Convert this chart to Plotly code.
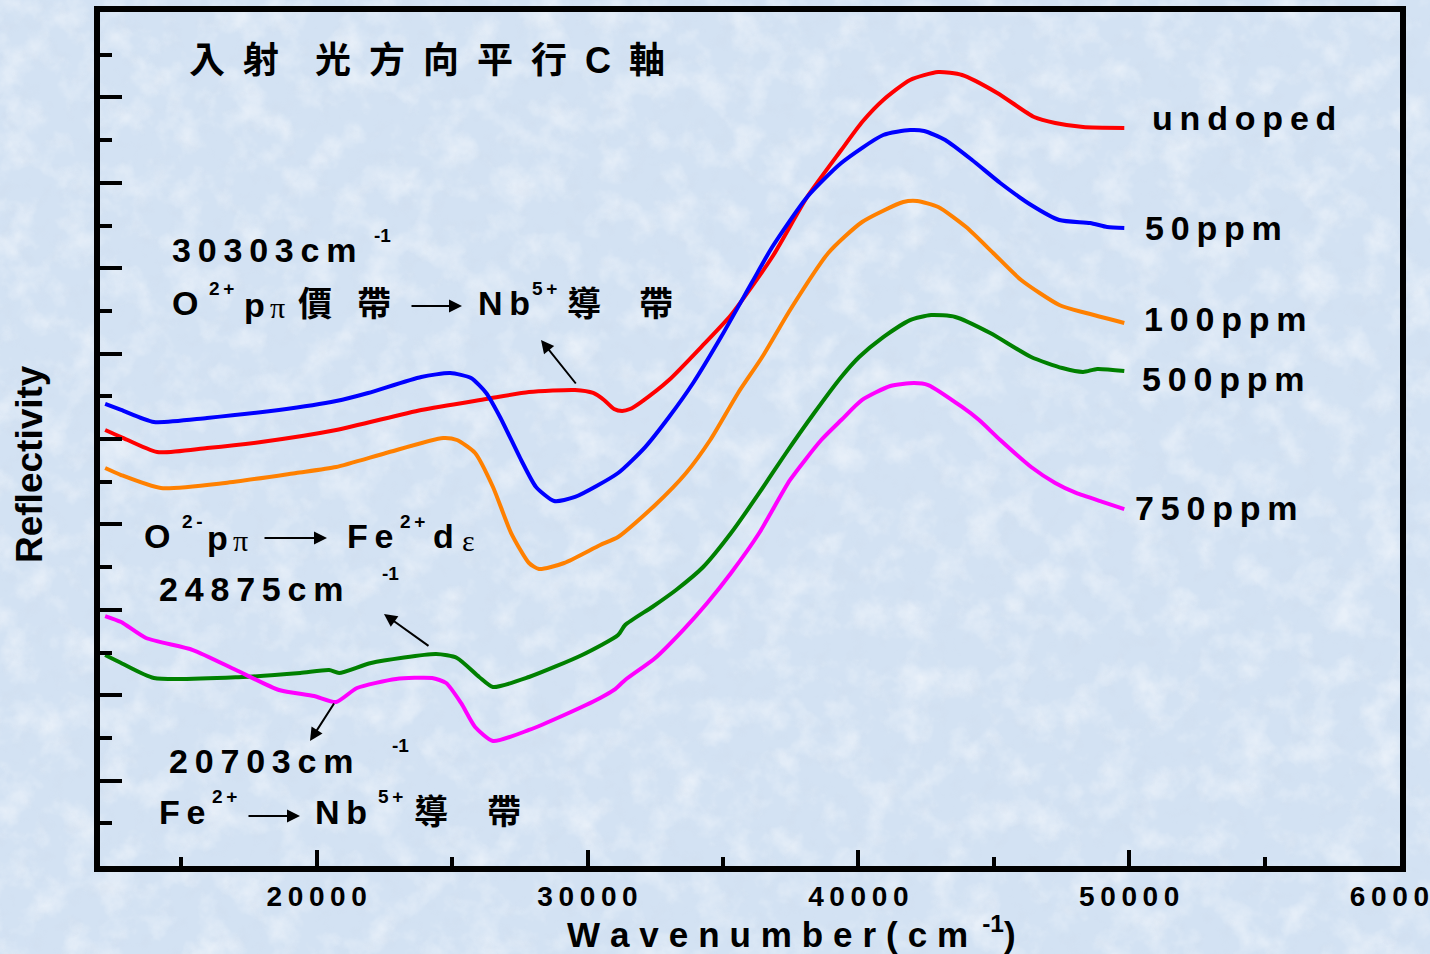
import base64
import plotly.graph_objects as go

# ---- data: reflectivity spectra, E parallel to c axis ----
wn_undoped = [12190, 12780, 14110, 15950, 17950, 20720, 23860, 26260, 27840, 29540, 30210, 30610,
              30980, 31280, 31570, 31980, 33010, 34270, 35300, 36820, 38110, 39370, 40140, 40920,
              41910, 42950, 43830, 45130, 46490, 47270, 48300, 49820]
r_undoped = [51.05, 50.23, 48.48, 48.95, 49.65, 51.05, 53.40, 54.68, 55.50, 55.74, 55.39, 54.57,
             53.51, 53.28, 53.51, 54.33, 56.91, 61.01, 64.52, 71.31, 78.34, 83.84, 87.12, 89.70,
             92.04, 92.97, 92.62, 90.52, 87.70, 87.00, 86.53, 86.42]

wn_50 = [12190, 12780, 13990, 15950, 18610, 20720, 21900, 23860, 24930, 25700, 26260, 26770,
         27550, 28100, 28770, 29540, 31130, 32130, 33010, 33900, 34930, 36080, 36820, 38110,
         39370, 40920, 41910, 42430, 43210, 44200, 45240, 46380, 47420, 48560, 49190, 49820]
r_50 = [54.10, 53.40, 51.99, 52.46, 53.40, 54.45, 55.39, 57.26, 57.73, 57.14, 55.39, 52.58,
        47.54, 44.38, 42.74, 43.21, 46.02, 49.06, 52.58, 56.56, 61.94, 68.38, 72.48, 78.34,
        82.32, 85.60, 86.18, 86.07, 85.01, 82.67, 79.98, 77.40, 75.64, 75.29, 74.82, 74.71]

wn_100 = [12190, 12780, 14250, 16620, 19240, 20720, 22560, 24670, 25180, 25850, 26510, 27180,
          27840, 28210, 29140, 30470, 31130, 32500, 33640, 34530, 35560, 36450, 37480, 38890,
          40140, 41660, 42170, 42950, 43980, 44980, 46010, 47420, 48410, 49820]
r_100 = [46.60, 45.78, 44.26, 44.85, 46.02, 46.72, 48.36, 50.12, 49.88, 48.36, 44.38, 38.99,
         35.48, 34.78, 35.48, 37.59, 38.52, 42.27, 46.02, 49.88, 55.39, 59.60, 65.11, 71.78,
         75.41, 77.75, 77.87, 77.17, 74.82, 71.78, 68.62, 65.69, 64.75, 63.58]

wn_500 = [12190, 12780, 13990, 17280, 19390, 20460, 20830, 22010, 24410, 25180, 26000, 26510,
          27840, 29800, 31130, 31390, 32390, 33270, 34270, 35300, 36340, 37330, 38370, 39370,
          40030, 40920, 41910, 42690, 43580, 44870, 46380, 47530, 48300, 48820, 49820]
r_500 = [24.71, 23.77, 22.01, 22.13, 22.60, 22.95, 22.60, 23.77, 24.82, 24.36, 22.13, 20.96,
         22.13, 24.71, 27.05, 28.22, 30.33, 32.32, 35.01, 38.99, 43.68, 48.36, 53.04, 57.26,
         59.60, 61.94, 63.93, 64.52, 64.29, 62.41, 59.60, 58.31, 57.85, 58.20, 57.96]

wn_750 = [12190, 12780, 13700, 15430, 17020, 18610, 19900, 20720, 21490, 22930, 24260, 24780,
          25330, 25850, 26510, 27840, 29140, 30470, 30980, 31390, 32500, 33530, 34420, 35300,
          36340, 37480, 38630, 39370, 40140, 41180, 42060, 42580, 43830, 44460, 45240, 46380,
          47270, 48040, 49040, 49820]
r_750 = [29.27, 28.57, 26.70, 25.29, 22.95, 20.61, 19.91, 19.20, 20.84, 21.90, 22.01, 21.43,
         19.09, 16.28, 14.64, 15.93, 17.68, 19.67, 20.61, 21.78, 24.36, 27.63, 30.80, 34.31,
         38.99, 45.20, 49.88, 52.22, 54.57, 56.21, 56.56, 56.32, 53.75, 52.22, 49.88, 46.72,
         44.85, 43.68, 42.62, 41.80]

series_names = ["undoped", "50ppm", "100ppm", "500ppm", "750ppm"]
series_x = [wn_undoped, wn_50, wn_100, wn_500, wn_750]
series_y = [r_undoped, r_50, r_100, r_500, r_750]
series_colors = ["#ff0000", "#0000ff", "#ff8000", "#008000", "#ff00ff"]

x_ticks = [20000, 30000, 40000, 50000, 60000]

BG = "rgb(211,226,243)"
SANS = "Liberation Sans, Arial, Noto Sans CJK TC, sans-serif"
SERIF = "Liberation Serif, DejaVu Serif, serif"
TSP = "\u2009"
W, H = 1430, 954


def sp(s, gap=TSP):
    """Spread letters with thin spaces (tracked lettering)."""
    return gap.join(s)


# mottled light-blue paper texture
texture_svg = f"""<svg xmlns='http://www.w3.org/2000/svg' width='{W}' height='{H}'>
<filter id='a'><feTurbulence type='fractalNoise' baseFrequency='0.03' numOctaves='4' seed='7'/>
<feColorMatrix values='0 0 0 0 1  0 0 0 0 1  0 0 0 0 1  2.2 0 0 0 -1.0'/></filter>
<filter id='b'><feTurbulence type='fractalNoise' baseFrequency='0.06' numOctaves='3' seed='2'/>
<feColorMatrix values='0 0 0 0 0.62  0 0 0 0 0.70  0 0 0 0 0.82  2.0 0 0 0 -1.05'/></filter>
<rect width='100%' height='100%' fill='{BG}'/>
<rect width='100%' height='100%' filter='url(#a)' opacity='0.5'/>
<rect width='100%' height='100%' filter='url(#b)' opacity='0.35'/>
</svg>"""
texture_src = "data:image/svg+xml;base64," + base64.b64encode(texture_svg.encode()).decode()

fig = go.Figure()
for name, xs, ys, col in zip(series_names, series_x, series_y, series_colors):
    fig.add_trace(go.Scatter(x=xs, y=ys, mode="lines", name=name,
                             line=dict(color=col, width=4, shape="spline", smoothing=0.6)))

# plot area in pixels: x 100..1400, y 12..866
L, R, T, B = 100, 1400, 12, 866


def px(xp):
    return (xp - L) / (R - L)


def py(yp):
    return (B - yp) / (B - T)


annotations = []
YSHIFT = -1


def label(text, xp, yp, size, family=SANS, weight="bold", anchor="left", angle=0):
    annotations.append(dict(text=text, x=px(xp), y=py(yp + YSHIFT), xref="paper", yref="paper",
                            xanchor=anchor, yanchor="middle", showarrow=False, textangle=angle,
                            font=dict(family=family, size=size, color="black", weight=weight)))


def arrow(x0, y0, x1, y1):
    annotations.append(dict(text="", x=px(x1), y=py(y1), xref="paper", yref="paper",
                            ax=x0 - x1, ay=y0 - y1, axref="pixel", ayref="pixel",
                            showarrow=True, arrowhead=2, arrowsize=1.3, arrowwidth=2,
                            arrowcolor="black"))


# heading
label("入\u2002射\u2002\u2002光\u2002方\u2002向\u2002平\u2002行\u2002C\u2002軸", 187, 62, 36)

# 30303 cm-1 : O2+ p-pi valence band -> Nb5+ conduction band
label(sp("30303cm"), 170, 251, 34)
label("-1", 372, 237, 19)
label("O", 170, 304, 34)
label(sp("2+"), 207, 289, 19)
label("p", 242, 306, 34)
label("π", 268, 308, 30, SERIF, "normal")
label("價", 296, 305, 34)
label("帶", 355, 305, 34)
arrow(410, 306, 462, 306)
label(sp("Nb"), 476, 304, 34)
label(sp("5+"), 530, 289, 19)
label("導", 565, 305, 34)
label("帶", 637, 305, 34)
arrow(577, 385, 541, 340)

# 24875 cm-1 : O2- p-pi -> Fe2+ d-epsilon
label("O", 142, 537, 34)
label(sp("2-"), 180, 522, 19)
label("p", 205, 539, 34)
label("π", 231, 541, 30, SERIF, "normal")
arrow(263, 538, 327, 538)
label(sp("Fe"), 345, 537, 34)
label(sp("2+"), 398, 522, 19)
label("d", 431, 537, 34)
label("ε", 460, 541, 30, SERIF, "normal")
label(sp("24875cm"), 157, 590, 34)
label("-1", 380, 574, 19)
arrow(430, 647, 384, 614)

# 20703 cm-1 : Fe2+ -> Nb5+ conduction band
arrow(335, 702, 310, 741)
label(sp("20703cm"), 167, 762, 34)
label("-1", 390, 746, 19)
label(sp("Fe"), 157, 813, 34)
label(sp("2+"), 210, 797, 19)
arrow(247, 816, 300, 816)
label(sp("Nb"), 313, 813, 34)
label(sp("5+"), 376, 797, 19)
label("導", 412, 813, 34)
label("帶", 485, 813, 34)

# curve labels
for name, xp, yp in zip(series_names, [1150, 1143, 1142, 1140, 1133], [119, 229, 320, 380, 509]):
    label(sp(name), xp, yp, 34)

# axis titles
label(sp("Wavenumber(cm", "\u2009\u200a") + "\u2009\u2009<sup>-1</sup>)", 792, 933, 35, anchor="center")
label("Reflectivity", 30, 465, 37, anchor="center", angle=-90)

fig.update_layout(
    width=W, height=H,
    margin=dict(l=L, r=W - R, t=T, b=H - B, autoexpand=False),
    paper_bgcolor=BG, plot_bgcolor="rgba(0,0,0,0)",
    showlegend=False,
    annotations=annotations,
    images=[dict(source=texture_src, xref="paper", yref="paper",
                 x=px(0), y=py(0), sizex=W / (R - L), sizey=H / (B - T),
                 xanchor="left", yanchor="top", sizing="stretch", layer="below")],
    xaxis=dict(range=[12000, 60000], showline=True, linewidth=6, linecolor="black", mirror=True,
               ticks="inside", ticklen=16, tickwidth=4, tickcolor="black",
               tickmode="array", tickvals=x_ticks, ticktext=[sp(str(v)) for v in x_ticks],
               tickfont=dict(family=SANS, size=28, color="black", weight="bold"),
               ticklabelstandoff=0, ticklabeloverflow="allow", automargin=False,
               showgrid=False, zeroline=False,
               minor=dict(ticks="inside", ticklen=9, tickwidth=4, tickcolor="black",
                          tickmode="array", tickvals=[v - 5000 for v in x_ticks], showgrid=False)),
    yaxis=dict(range=[0, 100], showline=True, linewidth=6, linecolor="black", mirror=True,
               ticks="inside", ticklen=22, tickwidth=4, tickcolor="black",
               tickmode="array", tickvals=list(range(10, 100, 10)), showticklabels=False,
               automargin=False, showgrid=False, zeroline=False,
               minor=dict(ticks="inside", ticklen=12, tickwidth=4, tickcolor="black",
                          tickmode="array", tickvals=list(range(5, 100, 10)), showgrid=False)),
)

fig.write_html("out.html")
